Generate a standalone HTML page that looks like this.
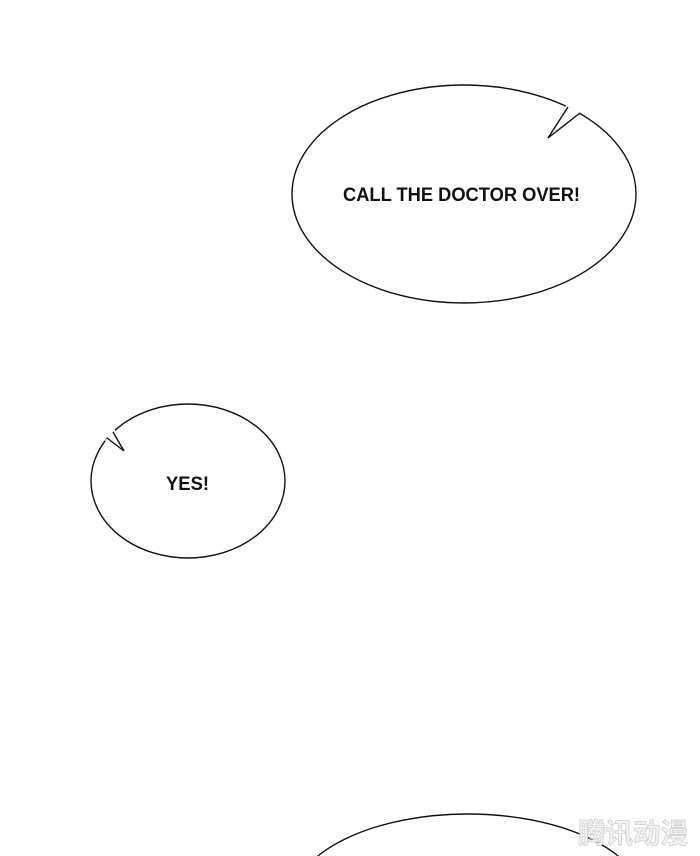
<!DOCTYPE html>
<html><head><meta charset="utf-8"><style>html,body{margin:0;padding:0;background:#fff;overflow:hidden}svg{display:block}</style></head>
<body>
<svg width="700" height="856" viewBox="0 0 700 856" xmlns="http://www.w3.org/2000/svg">
<rect width="700" height="856" fill="#fff"/>
<g fill="none" stroke="#111" stroke-width="1.4">
<ellipse cx="464" cy="194" rx="172" ry="109"/>
<ellipse cx="188" cy="481" rx="97" ry="77"/>
<ellipse cx="468" cy="902" rx="176" ry="88"/>
</g>
<polygon points="567,104 549,137 583,110" fill="#fff"/>
<polyline points="568,107 548,138 580,113" fill="none" stroke="#111" stroke-width="1.4"/>
<polygon points="105,441 124,451 114,428" fill="#fff"/>
<polyline points="107,438 124,451 113,432" fill="none" stroke="#111" stroke-width="1.4"/>
<text x="343" y="201" font-family="Liberation Sans, sans-serif" font-weight="bold" font-size="19" textLength="237" lengthAdjust="spacingAndGlyphs" fill="#111">CALL THE DOCTOR OVER!</text>
<text x="166" y="490" font-family="Liberation Sans, sans-serif" font-weight="bold" font-size="19" textLength="43" lengthAdjust="spacingAndGlyphs" fill="#111">YES!</text>
<text x="578" y="843" font-family="Noto Sans CJK SC, sans-serif" font-weight="bold" font-size="28" textLength="110" lengthAdjust="spacingAndGlyphs" fill="#f2f2f2" stroke="#cfcfcf" stroke-width="0.8">腾讯动漫</text>
</svg>
</body></html>
